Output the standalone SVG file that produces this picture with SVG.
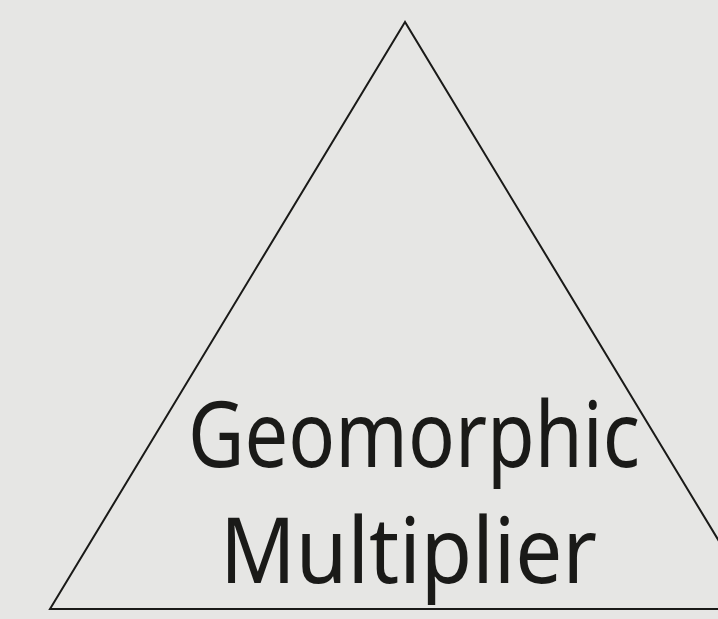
<svg xmlns="http://www.w3.org/2000/svg" width="718" height="619" viewBox="0 0 718 619">
<style>
.shape{fill:none;stroke:#1a1a18;stroke-width:2;stroke-linejoin:miter}
.lbl{font-family:"Noto Sans","Open Sans",sans-serif;font-size:92px;fill:#1a1a18}
</style>
<rect width="718" height="619" fill="#e6e6e4"/>
<g id="triangle">
<path class="shape" d="M405,22 L50,609 L760,609 Z"/>
<text class="lbl" x="188" y="467" textLength="452" lengthAdjust="spacingAndGlyphs">Geomorphic</text>
<text class="lbl" x="220" y="583" textLength="377" lengthAdjust="spacingAndGlyphs">Multiplier</text>
</g>
<g id="connectors"/>
</svg>
